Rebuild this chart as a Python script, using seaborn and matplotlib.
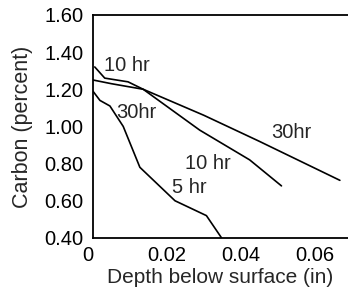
import numpy as np
import pandas as pd
import seaborn as sns
import matplotlib.pyplot as plt

# carbon profiles (depth in inches, carbon in percent)
depth_5hr = [0.0, 0.0019, 0.0046, 0.0082, 0.0127, 0.0222, 0.0307, 0.0348]
carbon_5hr = [1.19, 1.14, 1.11, 1.00, 0.78, 0.60, 0.52, 0.40]

depth_10hr = [0.0005, 0.0032, 0.0095, 0.0136, 0.0289, 0.0424, 0.051]
carbon_10hr = [1.32, 1.26, 1.24, 1.20, 0.98, 0.82, 0.68]

depth_30hr = [0.0, 0.005, 0.0136, 0.03, 0.045, 0.0668]
carbon_30hr = [1.25, 1.23, 1.20, 1.06, 0.92, 0.71]

curve_labels = ["5 hr", "10 hr", "10 hr", "30hr", "30hr"]
label_x = [0.0262, 0.0092, 0.031, 0.0118, 0.0537]
label_y = [0.669, 1.33, 0.803, 1.077, 0.97]

x_ticks = [0, 0.01, 0.02, 0.03, 0.04, 0.05, 0.06]
x_ticklabels = ["0", "", "0.02", "", "0.04", "", "0.06"]
y_ticks = [0.40, 0.60, 0.80, 1.00, 1.20, 1.40, 1.60]


def build_frame():
    parts = []
    for name, d, c in [("5 hr", depth_5hr, carbon_5hr),
                       ("10 hr", depth_10hr, carbon_10hr),
                       ("30 hr", depth_30hr, carbon_30hr)]:
        parts.append(pd.DataFrame({"depth": d, "carbon": c, "time": name}))
    return pd.concat(parts, ignore_index=True)


def main():
    sns.set_style("white")
    plt.rcParams['font.family'] = ['Liberation Sans', 'DejaVu Sans']

    df = build_frame()
    fig = plt.figure(figsize=(3.48, 2.93), dpi=100)
    ax = fig.add_axes([0.267, 0.188, 0.733, 0.761])

    sns.lineplot(data=df, x="depth", y="carbon", units="time", estimator=None,
                 color="black", lw=1.2, sort=False, ax=ax, legend=False)

    for txt, x, y in zip(curve_labels, label_x, label_y):
        ax.text(x, y, txt, fontsize=14.5, ha="center", va="center")

    ax.set_xlim(0, 0.069)
    ax.set_ylim(0.40, 1.60)
    ax.set_xticks(x_ticks)
    ax.set_xticklabels(x_ticklabels)
    ax.set_yticks(y_ticks)
    ax.set_yticklabels([f"{v:.2f}" for v in y_ticks])
    ax.tick_params(direction="in", length=8, width=1.2, labelsize=14.5,
                   color="black", labelcolor="black")
    ax.tick_params(axis="y", pad=7)
    ax.tick_params(axis="x", pad=6)
    # the "0" on the x axis sits a little to the left in the original
    ax.get_xticklabels()[0].set_horizontalalignment("right")
    ax.get_xticklabels()[0].set_x(0.0006)

    for side in ["left", "bottom", "top"]:
        ax.spines[side].set_color("black")
        ax.spines[side].set_linewidth(1.3)
    ax.spines["right"].set_visible(False)

    ax.set_xlabel("Depth below surface (in)", fontsize=15, labelpad=2)
    ax.set_ylabel("Carbon (percent)", fontsize=15.5, labelpad=8)

    fig.savefig("out.png", dpi=100)


if (__name__ == '__main__'):
    main()
